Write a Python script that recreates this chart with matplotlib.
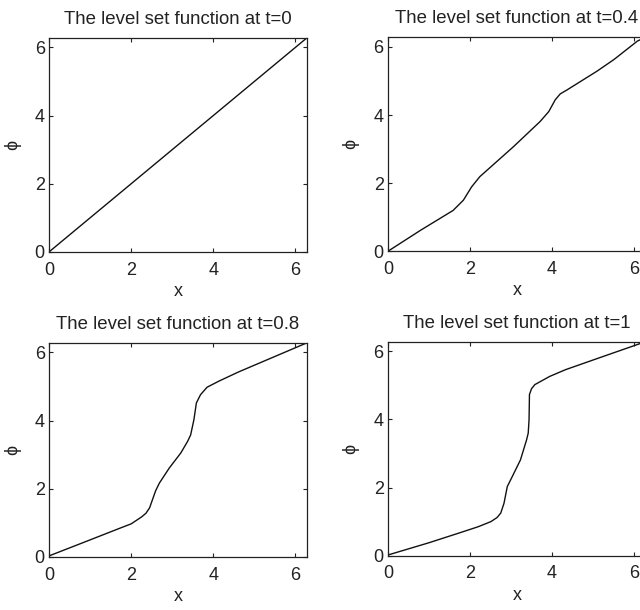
import matplotlib
matplotlib.use("Agg")
import matplotlib.pyplot as plt
from matplotlib import font_manager
import numpy as np

TWO_PI = 2 * np.pi

# values (x, phi)
x_t0 = [0.0, TWO_PI]
phi_t0 = [0.0, TWO_PI]

x_t04 = [0.0, 0.80, 1.59, 1.84, 2.04, 2.24, 3.06, 3.71, 3.92, 4.08, 4.20, 4.37,
         5.10, 5.51, 6.08, TWO_PI]
phi_t04 = [0.0, 0.62, 1.20, 1.50, 1.89, 2.19, 3.07, 3.81, 4.10, 4.45, 4.62, 4.74,
           5.29, 5.63, 6.17, TWO_PI]

x_t08 = [0.0, 0.83, 1.72, 2.00, 2.25, 2.36, 2.45, 2.52, 2.60, 2.69, 2.93, 3.21,
         3.38, 3.45, 3.53, 3.59, 3.69, 3.85, 4.14, 4.62, 5.40, TWO_PI]
phi_t08 = [0.03, 0.42, 0.84, 0.97, 1.17, 1.28, 1.44, 1.68, 1.95, 2.17, 2.61, 3.05,
           3.40, 3.58, 4.03, 4.52, 4.76, 4.98, 5.16, 5.43, 5.83, TWO_PI]

x_t1 = [0.0, 1.00, 1.72, 2.20, 2.51, 2.66, 2.75, 2.83, 2.91, 3.03, 3.23, 3.38,
        3.42, 3.44, 3.45, 3.50, 3.58, 3.94, 4.33, 5.30, TWO_PI]
phi_t1 = [0.02, 0.38, 0.66, 0.85, 1.00, 1.12, 1.25, 1.54, 2.03, 2.32, 2.81, 3.40,
          3.60, 3.99, 4.73, 4.90, 5.02, 5.26, 5.46, 5.87, TWO_PI]

titles = ["The level set function at t=0", "The level set function at t=0.4",
          "The level set function at t=0.8", "The level set function at t=1"]
xs = [x_t0, x_t04, x_t08, x_t1]
phis = [phi_t0, phi_t04, phi_t08, phi_t1]
ticks = [0, 2, 4, 6]

# the original text is a narrow helvetica
names = {f.name for f in font_manager.fontManager.ttflist}
FONT = "Liberation Sans Narrow" if "Liberation Sans Narrow" in names else "Liberation Sans"
LABEL_FS = 13
plt.rcParams['font.family'] = FONT
plt.rcParams['font.size'] = LABEL_FS

fig = plt.figure(figsize=(6.4, 6.1), dpi=100)
# axes boxes in figure fractions (right column runs past the edge like the original)
boxes = [(0.0766, 0.587, 0.403, 0.351),
         (0.606, 0.588, 0.403, 0.351),
         (0.0766, 0.087, 0.403, 0.351),
         (0.606, 0.089, 0.403, 0.351)]

title_objs = []
for box, title, x, phi in zip(boxes, titles, xs, phis):
    ax = fig.add_axes(box)
    ax.plot(x, phi, color="#111111", lw=1.0)
    ax.set_xlim(0, TWO_PI)
    ax.set_ylim(0, TWO_PI)
    ax.set_xticks(ticks)
    ax.set_yticks(ticks)
    ax.tick_params(direction="in", length=3, width=0.8, top=True, right=True,
                   colors="#222222", labelcolor="#222222", labelsize=LABEL_FS)
    ax.tick_params(axis="x", pad=7)
    ax.tick_params(axis="y", pad=3)
    for s in ax.spines.values():
        s.set_linewidth(0.9)
        s.set_color("#222222")
    title_objs.append(ax.set_title(title, pad=10, color="#222222", fontsize=12))
    ax.set_xlabel("x", labelpad=3, color="#222222")
    ax.set_ylabel("ϕ", labelpad=10, color="#222222",
                  fontfamily=[FONT, "DejaVu Sans"])

# the first title is about 229 px wide in the original; size the titles to that
renderer = fig.canvas.get_renderer()
w = title_objs[0].get_window_extent(renderer).width
scale = 229.0 / w
for t in title_objs:
    t.set_fontsize(12 * scale)

fig.savefig("out.png", dpi=100)
